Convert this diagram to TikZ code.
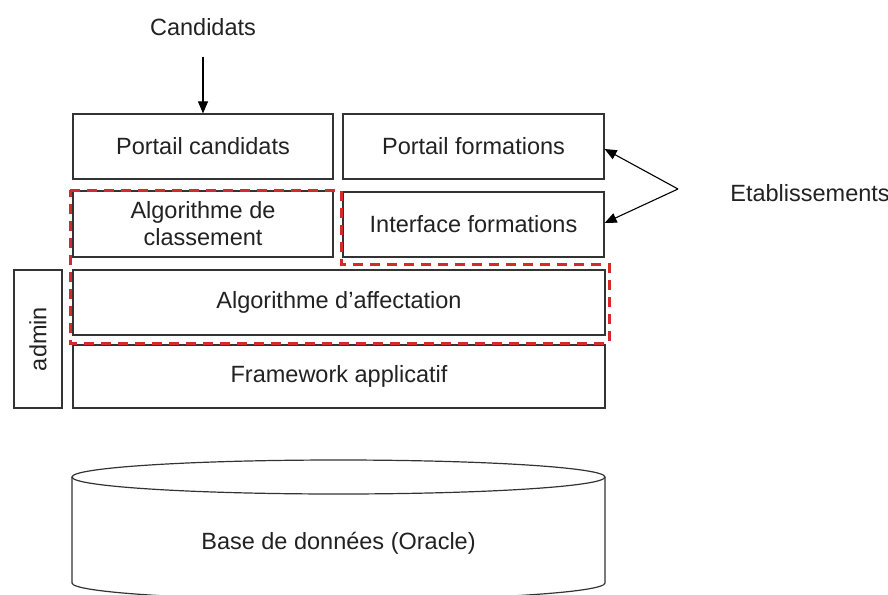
\documentclass[tikz,border=0pt]{standalone}
\usepackage{fontspec}
\setmainfont{Liberation Sans}
\usetikzlibrary{arrows.meta}
\definecolor{boxline}{HTML}{333333}
\definecolor{dashred}{HTML}{D42A2A}
\definecolor{txt}{HTML}{222222}
\begin{document}
\begin{tikzpicture}[x=1pt,y=-1pt,
  layer/.style={draw=boxline,line width=1.2pt,fill=white,inner sep=0pt,text=txt,font=\fontsize{23.5}{27}\selectfont,align=center},
  lbl/.style={text=txt,font=\fontsize{23.5}{27}\selectfont,inner sep=0pt},
  conn/.style={draw=black,line width=1.1pt,-{Triangle[length=12pt,width=10pt]}},
  redzone/.style={draw=dashred,line width=3pt,dash pattern=on 10pt off 7pt}]
\useasboundingbox (0,0) rectangle (888,594);
\fill[white] (0,0) rectangle (888,594);

% cylinder (database)
\draw[boxline,line width=1.2pt,fill=white]
  (72,477) -- (72,583) arc[start angle=180,end angle=0,x radius=266.5,y radius=17] -- (605,477);
\draw[boxline,line width=1.2pt] (338.5,477) ellipse[x radius=266.5,y radius=17];
\node[lbl] (db) at (338.5,543) {Base de données (Oracle)};

% layers
\node[layer,minimum width=260pt,minimum height=65pt] (pc) at (203,146.5) {Portail candidats};
\node[layer,minimum width=261pt,minimum height=65pt] (pf) at (473.5,146.5) {Portail formations};
\node[layer,minimum width=260pt,minimum height=66pt] (ac) at (203,224) {Algorithme de\\classement};
\node[layer,minimum width=261pt,minimum height=65pt] (if) at (473.5,224.5) {Interface formations};
\node[layer,minimum width=532pt,minimum height=65pt] (aa) at (339,302.5) {Algorithme d’affectation};
\node[layer,minimum width=532pt,minimum height=63pt] (fw) at (339,376.5) {Framework applicatif};
\node[layer,minimum width=48pt,minimum height=138pt] (admin) at (38,339) {\rotatebox{90}{admin}};

% red dashed zone
\draw[redzone] (70,190) -- (341,190) -- (341,264) -- (609,264) -- (609,343) -- (70,343) -- cycle;

% external actors
\node[lbl] (cand) at (203,27) {Candidats};
\node[lbl] (etab) at (810,193) {Etablissements};
\coordinate (split) at (678,189);
\coordinate (candtail) at (203,57);

\draw[conn] (candtail) -- (pc.north);
\draw[conn] (split) -- (pf.east |- 0,149);
\draw[conn] (split) -- (if.east |- 0,223);
\end{tikzpicture}
\end{document}
